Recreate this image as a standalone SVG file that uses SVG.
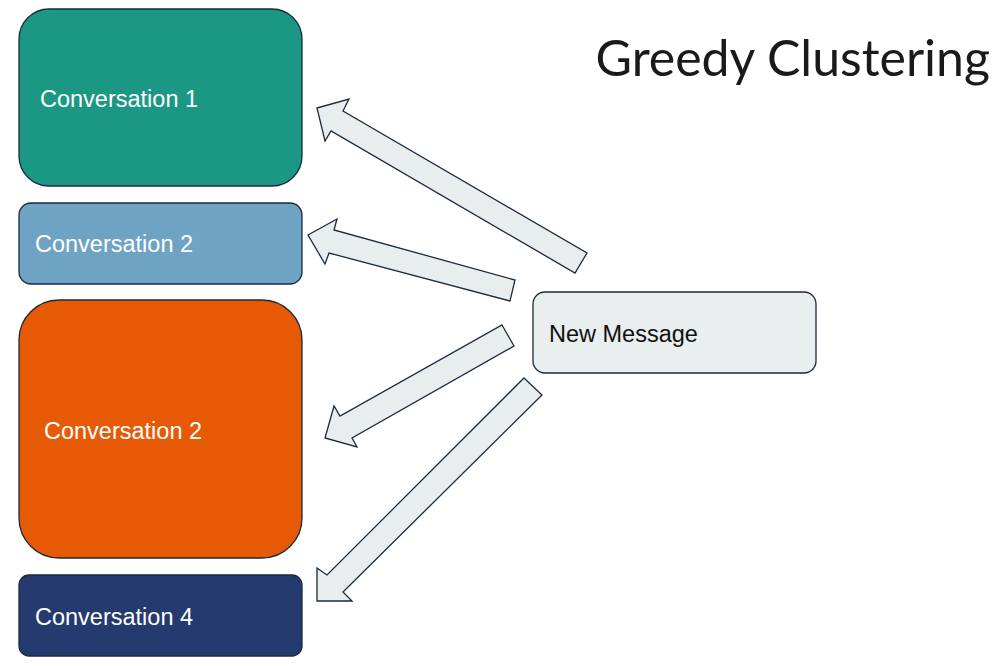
<svg xmlns="http://www.w3.org/2000/svg" width="1002" height="666" viewBox="0 0 1002 666">
<style>
.box{stroke:#1b2a3e;stroke-width:1.3}
.lbl{font-family:"Liberation Sans",Arial,sans-serif;font-size:23.5px;fill:#ffffff}
.arr{fill:#e8eeee;stroke:#1b2a3e;stroke-width:1.3;stroke-linejoin:miter}
</style>
<rect width="1002" height="666" fill="#ffffff"/>
<text x="990" y="76" text-anchor="end" font-family="Lato, sans-serif" font-size="50" fill="#1a1a1a">Greedy Clustering</text>
<g id="conv1">
<rect class="box" x="19" y="9" width="283" height="177" rx="30" fill="#1a9884"/>
<text class="lbl" x="40" y="107">Conversation 1</text>
</g>
<g id="conv2a">
<rect class="box" x="19" y="203" width="283" height="81" rx="12" fill="#6fa3c4"/>
<text class="lbl" x="35" y="252">Conversation 2</text>
</g>
<g id="conv2b">
<rect class="box" x="19" y="300" width="283" height="258" rx="40" fill="#e65a06"/>
<text class="lbl" x="44" y="439">Conversation 2</text>
</g>
<g id="conv4">
<rect class="box" x="19" y="575" width="283" height="81" rx="10" fill="#253a6e"/>
<text class="lbl" x="35" y="625">Conversation 4</text>
</g>
<g id="newmsg">
<rect class="box" x="533" y="292" width="283" height="81" rx="12" fill="#e9eeee"/>
<text class="lbl" x="549" y="342" style="fill:#111111">New Message</text>
</g>
<g id="connectors">
<polygon class="arr" points="317,108 349,99 343,111 587,253 575,273 331,131 325,141"/>
<polygon class="arr" points="308,235 337,219 334,230 515,280 510,301 329,253 325,264"/>
<polygon class="arr" points="502,325 514,346 352,438 357,447 325,438 334,406 340,416"/>
<polygon class="arr" points="524,378 542,395 343,592 352,601 317,601 317,568 327,575"/>
</g>
</svg>
